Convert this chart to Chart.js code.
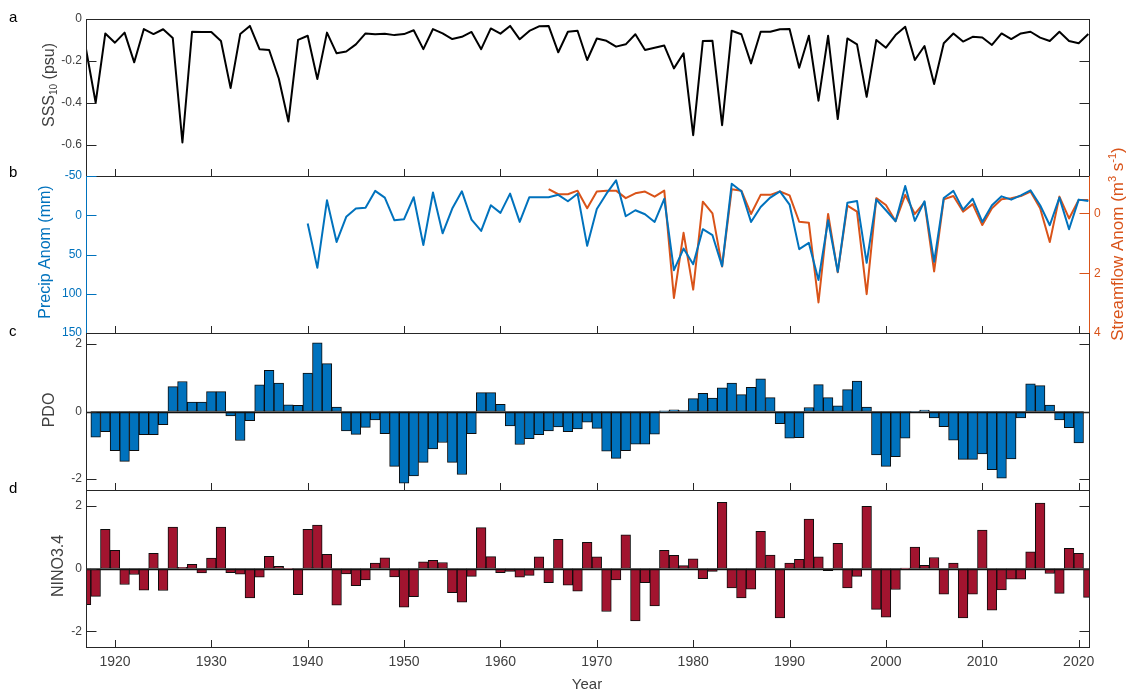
<!DOCTYPE html>
<html>
<head>
<meta charset="utf-8">
<title>SSS, precipitation, streamflow, PDO and NINO3.4, 1917–2021</title>
<script src="https://cdn.jsdelivr.net/npm/chart.js@4.4.1/dist/chart.umd.min.js"></script>
<style>
  html, body { margin: 0; padding: 0; background: #ffffff; }
  #figure { position: relative; width: 1131px; height: 690px; overflow: hidden; background: #ffffff; }
  #figure canvas { position: absolute; left: 0; top: 0; }
</style>
</head>
<body>
<div id="figure">
  <canvas id="panelA" width="1131" height="690"></canvas>
  <canvas id="panelB" width="1131" height="690"></canvas>
  <canvas id="panelC" width="1131" height="690"></canvas>
  <canvas id="panelD" width="1131" height="690"></canvas>
</div>
<script>
// ---------------- data ----------------
const years = [
  1917, 1918, 1919, 1920, 1921, 1922, 1923, 1924, 1925, 1926,
  1927, 1928, 1929, 1930, 1931, 1932, 1933, 1934, 1935, 1936,
  1937, 1938, 1939, 1940, 1941, 1942, 1943, 1944, 1945, 1946,
  1947, 1948, 1949, 1950, 1951, 1952, 1953, 1954, 1955, 1956,
  1957, 1958, 1959, 1960, 1961, 1962, 1963, 1964, 1965, 1966,
  1967, 1968, 1969, 1970, 1971, 1972, 1973, 1974, 1975, 1976,
  1977, 1978, 1979, 1980, 1981, 1982, 1983, 1984, 1985, 1986,
  1987, 1988, 1989, 1990, 1991, 1992, 1993, 1994, 1995, 1996,
  1997, 1998, 1999, 2000, 2001, 2002, 2003, 2004, 2005, 2006,
  2007, 2008, 2009, 2010, 2011, 2012, 2013, 2014, 2015, 2016,
  2017, 2018, 2019, 2020, 2021
];

// SSS10 (psu), 1917-2021
const sssValues = [
  -0.144, -0.400, -0.069, -0.113, -0.065, -0.207, -0.048, -0.072, -0.049, -0.091,
  -0.590, -0.061, -0.062, -0.062, -0.105, -0.330, -0.072, -0.033, -0.144, -0.148,
  -0.284, -0.490, -0.100, -0.080, -0.287, -0.065, -0.164, -0.155, -0.121, -0.069,
  -0.073, -0.070, -0.077, -0.072, -0.054, -0.144, -0.048, -0.069, -0.096, -0.085,
  -0.062, -0.144, -0.045, -0.070, -0.033, -0.097, -0.057, -0.035, -0.033, -0.159,
  -0.061, -0.056, -0.196, -0.093, -0.104, -0.132, -0.121, -0.073, -0.148, -0.137,
  -0.127, -0.236, -0.164, -0.555, -0.105, -0.104, -0.507, -0.056, -0.073, -0.212,
  -0.061, -0.061, -0.049, -0.048, -0.233, -0.080, -0.390, -0.080, -0.478, -0.093,
  -0.121, -0.372, -0.100, -0.137, -0.077, -0.037, -0.196, -0.129, -0.311, -0.116,
  -0.069, -0.108, -0.085, -0.088, -0.124, -0.069, -0.096, -0.069, -0.061, -0.089,
  -0.105, -0.061, -0.105, -0.116, -0.072
];

// Precipitation anomaly (mm), 1940-2021
const precipStart = 1940;
const precipValues = [
  10.6, 67.0, -19.0, 34.0, 2.0, -8.5, -9.7, -31.0, -22.5, 6.4,
  5.0, -23.0, 38.0, -29.0, 23.0, -8.5, -30.5, 5.5, 20.0, -12.7,
  -3.0, -27.5, 8.5, -23.0, -23.0, -23.0, -26.0, -17.8, -27.5, 39.0,
  -8.0, -27.5, -44.5, 1.3, -6.4, -1.3, 8.5, -21.0, 70.0, 42.4,
  62.4, 17.8, 25.4, 64.8, -40.2, -30.5, 8.5, -10.6, -22.5, -30.5,
  -13.6, 43.2, 35.2, 82.6, 6.4, 72.0, -16.0, -18.2, 60.6, -19.9,
  -6.4, 7.6, -37.3, 7.2, -17.8, 59.3, -22.0, -31.0, -7.2, -21.0,
  8.5, -12.7, -24.1, -19.9, -25.4, -31.8, -12.7, 12.7, -22.5, 17.8,
  -19.9, -18.2
];

// Streamflow anomaly (m3 s-1), 1965-2021
const flowStart = 1965;
const flowValues = [
  -0.81, -0.64, -0.64, -0.76, -0.17, -0.73, -0.76, -0.76, -0.51, -0.67,
  -0.73, -0.56, -0.76, 2.83, 0.65, 2.55, -0.39, 0.00, 1.78, -0.81,
  -0.76, 0.02, -0.62, -0.62, -0.73, -0.60, 0.28, 0.31, 2.98, 0.02,
  1.97, -0.26, -0.06, 2.70, -0.51, -0.28, 0.26, -0.62, 0.02, -0.37,
  1.94, -0.47, -0.58, -0.06, -0.31, 0.39, -0.17, -0.47, -0.51, -0.58,
  -0.73, -0.17, 0.96, -0.56, 0.17, -0.45, -0.45
];

// PDO index, 1918-2020
const pdoStart = 1918;
const pdoValues = [
  -0.76, -0.60, -1.16, -1.48, -1.16, -0.69, -0.69, -0.39, 0.74, 0.89,
  0.28, 0.28, 0.59, 0.59, -0.13, -0.86, -0.27, 0.79, 1.22, 0.84,
  0.20, 0.18, 1.14, 2.04, 1.42, 0.13, -0.58, -0.68, -0.47, -0.25,
  -0.66, -1.63, -2.13, -1.91, -1.51, -1.11, -0.92, -1.51, -1.87, -0.66,
  0.56, 0.56, 0.21, -0.43, -0.98, -0.81, -0.69, -0.58, -0.46, -0.60,
  -0.52, -0.32, -0.50, -1.18, -1.39, -1.16, -0.97, -0.97, -0.67, 0.02,
  0.05, 0.03, 0.38, 0.54, 0.40, 0.70, 0.84, 0.50, 0.72, 0.97,
  0.41, -0.36, -0.79, -0.78, 0.12, 0.80, 0.41, 0.17, 0.65, 0.90,
  0.13, -1.29, -1.63, -1.34, -0.79, -0.03, 0.04, -0.19, -0.45, -0.85,
  -1.42, -1.42, -1.26, -1.73, -1.98, -1.41, -0.19, 0.82, 0.77, 0.19,
  -0.25, -0.48, -0.93
];

// NINO3.4 index, 1917-2021
const ninoValues = [
  -1.15, -0.89, 1.25, 0.58, -0.51, -0.19, -0.69, 0.48, -0.70, 1.32,
  0.04, 0.13, -0.14, 0.33, 1.32, -0.13, -0.18, -0.94, -0.28, 0.39,
  0.07, -0.02, -0.83, 1.25, 1.38, 0.45, -1.17, -0.17, -0.55, -0.36,
  0.17, 0.34, -0.27, -1.23, -0.90, 0.21, 0.26, 0.19, -0.77, -1.07,
  -0.25, 1.30, 0.38, -0.13, -0.09, -0.28, -0.22, 0.37, -0.45, 0.93,
  -0.53, -0.72, 0.83, 0.37, -1.37, -0.36, 1.07, -1.67, -0.45, -1.19,
  0.58, 0.42, 0.09, 0.31, -0.32, -0.09, 2.11, -0.62, -0.94, -0.66,
  1.18, 0.43, -1.57, 0.17, 0.29, 1.57, 0.37, -0.07, 0.80, -0.62,
  -0.25, 1.98, -1.30, -1.55, -0.67, 0.01, 0.68, 0.10, 0.35, -0.82,
  0.17, -1.57, -0.82, 1.22, -1.33, -0.68, -0.34, -0.34, 0.53, 2.08,
  -0.16, -0.79, 0.64, 0.48, -0.92
];

// tick values
const decadeTicks = [1920, 1930, 1940, 1950, 1960, 1970, 1980, 1990, 2000, 2010, 2020];
const sssTicks = [-0.6, -0.4, -0.2, 0];
const precipTicks = [-50, 0, 50, 100, 150];
const flowTicks = [0, 2, 4];
const pdoTicks = [-2, 0, 2];
const ninoTicks = [-2, 0, 2];

// ---------------- layout & style ----------------
const W = 1131, H = 690;
const PLOT_L = 87, PLOT_R = 1089;
const Y_AXIS_W = 45, X_AXIS_H = 30;
const X_MIN = 1917.1, X_MAX = 2021.07;
const FONT = "'Liberation Sans', Arial, Helvetica, sans-serif";
const AXIS = '#262626';
const TEXT = '#404040';
const BLUE = '#0072BD';
const ORANGE = '#D95319';
const RED = '#A2142F';
const X_TICK_LEN = 7.5, Y_TICK_LEN = 10;

function seriesYears(start, values) {
  const i = years.indexOf(start);
  return years.slice(i, i + values.length);
}
function points(xs, ys) {
  return ys.map((v, i) => ({ x: xs[i], y: v }));
}

function xAxis(showLabels) {
  return {
    type: 'linear', position: 'bottom', min: X_MIN, max: X_MAX, offset: false,
    grid: { display: false, drawTicks: false, offset: false }, border: { display: false },
    ticks: {
      display: showLabels, padding: 7, color: TEXT, maxRotation: 0, autoSkip: false,
      font: { family: FONT, size: 14 }, callback: v => String(v)
    },
    afterBuildTicks: s => { s.ticks = decadeTicks.map(v => ({ value: v })); },
    afterFit: s => { s.height = showLabels ? X_AXIS_H : 0; }
  };
}

function yAxis(position, min, max, tickValues, color, reverse) {
  return {
    type: 'linear', position, min, max, reverse: !!reverse,
    grid: { display: false, drawTicks: false }, border: { display: false },
    ticks: {
      color, padding: 5, autoSkip: false,
      font: { family: FONT, size: 12 }, callback: v => String(v)
    },
    afterBuildTicks: s => { s.ticks = tickValues.map(v => ({ value: v })); },
    afterFit: s => { s.width = Y_AXIS_W; }
  };
}

// draws a run of text pieces centred on the origin, baseline at y = 0
function drawPieces(ctx, pieces, color) {
  let total = 0;
  pieces.forEach(p => {
    ctx.font = p.size + 'px ' + FONT;
    p.w = ctx.measureText(p.text).width;
    total += p.w;
  });
  let x = -total / 2;
  ctx.fillStyle = color;
  ctx.textAlign = 'left';
  ctx.textBaseline = 'alphabetic';
  pieces.forEach(p => {
    ctx.font = p.size + 'px ' + FONT;
    ctx.fillText(p.text, x, p.dy || 0);
    x += p.w;
  });
}

// MATLAB-style box: inward ticks, mirrored y ticks, bar baseline, labels
const framePlugin = {
  id: 'frame',
  afterDatasetsDraw(chart, _args, o) {
    const { ctx, chartArea: a, scales } = chart;
    const xs = scales.x;
    const L = a.left - 0.5, R = a.right + 0.5, T = a.top + 0.5, B = a.bottom + 0.5;
    ctx.save();
    ctx.lineCap = 'butt';

    if (o.zeroLine) {
      const y0 = Math.round(scales[o.leftScale].getPixelForValue(0)) + 0.5;
      ctx.strokeStyle = '#111111';
      ctx.lineWidth = 1.4;
      ctx.beginPath(); ctx.moveTo(a.left, y0); ctx.lineTo(a.right, y0); ctx.stroke();
    }

    ctx.lineWidth = 1;
    ctx.strokeStyle = AXIS;
    ctx.beginPath();
    ctx.moveTo(L, T); ctx.lineTo(R, T);
    ctx.moveTo(L, B); ctx.lineTo(R, B);
    decadeTicks.forEach(v => {
      const px = Math.round(xs.getPixelForValue(v)) + 0.5;
      ctx.moveTo(px, B); ctx.lineTo(px, B - X_TICK_LEN);
    });
    ctx.stroke();

    // left axis
    const ly = scales[o.leftScale];
    ctx.strokeStyle = o.leftColor || AXIS;
    ctx.beginPath();
    ctx.moveTo(L, a.top); ctx.lineTo(L, B + 0.5);
    ly.ticks.forEach(t => {
      const py = Math.round(ly.getPixelForValue(t.value)) + 0.5;
      ctx.moveTo(L, py); ctx.lineTo(L + Y_TICK_LEN, py);
    });
    ctx.stroke();

    // right axis (own scale, or mirror of the left one)
    const ry = scales[o.rightScale || o.leftScale];
    ctx.strokeStyle = o.rightColor || AXIS;
    ctx.beginPath();
    ctx.moveTo(R, a.top); ctx.lineTo(R, B + 0.5);
    ry.ticks.forEach(t => {
      const py = Math.round(ry.getPixelForValue(t.value)) + 0.5;
      ctx.moveTo(R, py); ctx.lineTo(R - Y_TICK_LEN, py);
    });
    ctx.stroke();
    ctx.restore();
  },
  afterDraw(chart, _args, o) {
    const ctx = chart.ctx;
    ctx.save();
    if (o.letter) {
      ctx.font = '15px ' + FONT;
      ctx.fillStyle = '#000000';
      ctx.textAlign = 'left';
      ctx.textBaseline = 'alphabetic';
      ctx.fillText(o.letter.text, o.letter.x, o.letter.y);
    }
    (o.titles || []).forEach(t => {
      ctx.save();
      ctx.translate(t.x, t.y);
      if (t.vertical) ctx.rotate(-Math.PI / 2);
      drawPieces(ctx, t.pieces, t.color);
      ctx.restore();
    });
    ctx.restore();
  }
};

function panel(id, cfg) {
  return new Chart(document.getElementById(id), {
    type: cfg.type,
    data: { datasets: cfg.datasets },
    options: {
      responsive: false,
      animation: false,
      devicePixelRatio: 1,
      events: [],
      layout: {
        padding: {
          left: PLOT_L - Y_AXIS_W,
          right: W - PLOT_R - (cfg.rightAxis ? Y_AXIS_W : 0),
          top: cfg.top,
          bottom: H - cfg.bottom - (cfg.xLabels ? X_AXIS_H : 0)
        }
      },
      plugins: { legend: { display: false }, tooltip: { enabled: false }, frame: cfg.frame },
      scales: cfg.scales
    },
    plugins: [framePlugin]
  });
}

const lineStyle = { borderWidth: 2, pointRadius: 0, tension: 0, borderJoinStyle: 'round', fill: false };
const barStyle = { borderColor: '#0d0d0d', borderWidth: 1, borderSkipped: false, barPercentage: 1, categoryPercentage: 1 };

// (a) SSS10
panel('panelA', {
  type: 'line', top: 19, bottom: 176,
  datasets: [Object.assign({ data: points(years, sssValues), borderColor: '#000000' }, lineStyle)],
  scales: { x: xAxis(false), y: yAxis('left', -0.75, 0, sssTicks, TEXT) },
  frame: {
    leftScale: 'y',
    letter: { text: 'a', x: 9, y: 22 },
    titles: [{
      vertical: true, x: 54, y: 85, color: TEXT,
      pieces: [{ text: 'SSS', size: 16 }, { text: '10', size: 10, dy: 3 }, { text: ' (psu)', size: 16 }]
    }]
  }
});

// (b) precipitation and streamflow anomalies, both axes inverted
panel('panelB', {
  type: 'line', top: 176, bottom: 333, rightAxis: true,
  datasets: [
    Object.assign({ data: points(seriesYears(precipStart, precipValues), precipValues), borderColor: BLUE, yAxisID: 'yP' }, lineStyle),
    Object.assign({ data: points(seriesYears(flowStart, flowValues), flowValues), borderColor: ORANGE, yAxisID: 'yF' }, lineStyle)
  ],
  scales: {
    x: xAxis(false),
    yP: yAxis('left', -50, 150, precipTicks, BLUE, true),
    yF: yAxis('right', -1.25, 4, flowTicks, ORANGE, true)
  },
  frame: {
    leftScale: 'yP', rightScale: 'yF', leftColor: BLUE, rightColor: ORANGE,
    letter: { text: 'b', x: 9, y: 177 },
    titles: [
      { vertical: true, x: 50, y: 252, color: BLUE, pieces: [{ text: 'Precip Anom (mm)', size: 16 }] },
      { vertical: true, x: 1123, y: 244, color: ORANGE, pieces: [
        { text: 'Streamflow Anom (m', size: 17 }, { text: '3', size: 11, dy: -7 },
        { text: ' s', size: 17 }, { text: '-1', size: 11, dy: -7 }, { text: ')', size: 17 }
      ] }
    ]
  }
});

// (c) PDO
panel('panelC', {
  type: 'bar', top: 333, bottom: 490,
  datasets: [Object.assign({ data: points(seriesYears(pdoStart, pdoValues), pdoValues), backgroundColor: BLUE }, barStyle)],
  scales: { x: xAxis(false), y: yAxis('left', -2.33, 2.33, pdoTicks, TEXT) },
  frame: {
    leftScale: 'y', zeroLine: true,
    letter: { text: 'c', x: 9, y: 336 },
    titles: [{ vertical: true, x: 54, y: 410, color: TEXT, pieces: [{ text: 'PDO', size: 16 }] }]
  }
});

// (d) NINO3.4
panel('panelD', {
  type: 'bar', top: 490, bottom: 647, xLabels: true,
  datasets: [Object.assign({ data: points(years, ninoValues), backgroundColor: RED }, barStyle)],
  scales: { x: xAxis(true), y: yAxis('left', -2.5, 2.5, ninoTicks, TEXT) },
  frame: {
    leftScale: 'y', zeroLine: true,
    letter: { text: 'd', x: 9, y: 493 },
    titles: [
      { vertical: true, x: 63, y: 566, color: TEXT, pieces: [{ text: 'NINO3.4', size: 16 }] },
      { vertical: false, x: 587, y: 689, color: TEXT, pieces: [{ text: 'Year', size: 15 }] }
    ]
  }
});
</script>
</body>
</html>
